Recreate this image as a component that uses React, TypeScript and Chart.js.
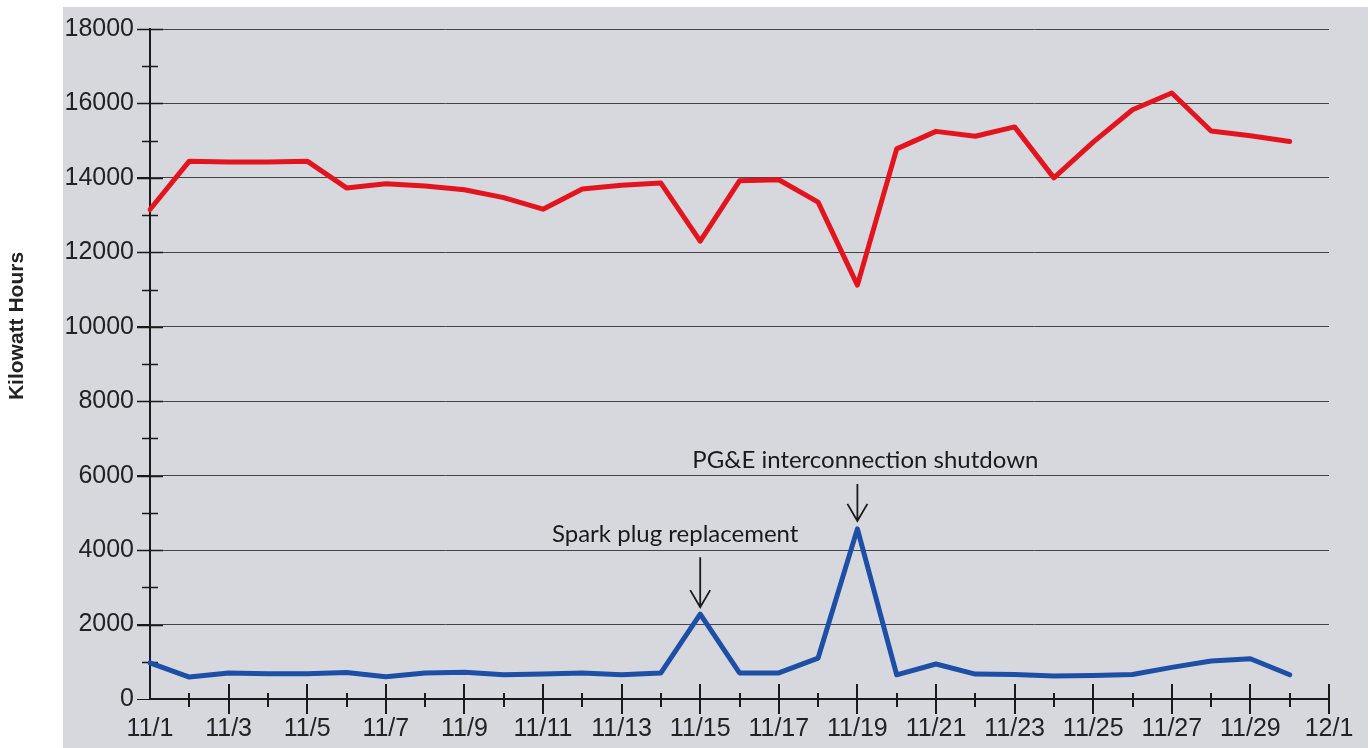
import React, { useEffect, useRef } from "react";
import { Chart, registerables } from "chart.js";

Chart.register(...registerables);

// Day labels along the x axis (one per day, 12/1 closes the month)
const dayLabels = [
  "11/1", "11/2", "11/3", "11/4", "11/5", "11/6", "11/7", "11/8", "11/9", "11/10",
  "11/11", "11/12", "11/13", "11/14", "11/15", "11/16", "11/17", "11/18", "11/19", "11/20",
  "11/21", "11/22", "11/23", "11/24", "11/25", "11/26", "11/27", "11/28", "11/29", "11/30",
  "12/1",
];

// Daily generation (kWh)
const dailyOutput = [
  13150, 14450, 14430, 14430, 14450, 13730, 13840, 13780, 13680, 13470,
  13160, 13700, 13800, 13860, 12300, 13920, 13950, 13350, 11120, 14780,
  15250, 15120, 15370, 14000, 14960, 15830, 16280, 15260, 15130, 14980,
];

// Daily shortfall (kWh)
const dailyShortfall = [
  970, 590, 700, 680, 680, 710, 600, 700, 720, 650,
  670, 700, 650, 700, 2280, 700, 700, 1100, 4570, 650,
  940, 670, 660, 620, 630, 660, 850, 1020, 1080, 650,
];

// y axis tick values
const yMin = 0;
const yMax = 18000;
const yStep = 2000;

// Event notes: label text and the day they point at
const eventNotes = [
  { day: "11/15", text: "Spark plug replacement" },
  { day: "11/19", text: "PG&E interconnection shutdown" },
];

const axisTitle = "Kilowatt Hours";

const TICK_FONT = "Liberation Sans, Arial, sans-serif";

const decorPlugin = {
  id: "decor",
  beforeDraw(chart: any) {
    const { ctx, width, height } = chart;
    ctx.save();
    ctx.fillStyle = "#ffffff";
    ctx.fillRect(0, 0, width, height);
    ctx.fillStyle = "#d7d8dd";
    ctx.fillRect(63, 7, 1305, height - 7);
    ctx.restore();
  },
  beforeDatasetsDraw(chart: any) {
    const { ctx, chartArea, scales } = chart;
    const x = scales.x;
    const y = scales.y;
    ctx.save();
    ctx.strokeStyle = "#1a1a1a";
    ctx.lineWidth = 2;
    // x-axis day ticks: long at labelled days, short between
    const base = chartArea.bottom;
    dayLabels.forEach((_, i) => {
      const px = Math.round(x.getPixelForValue(i));
      if (i === 0) return;
      const major = i % 2 === 0;
      ctx.beginPath();
      ctx.moveTo(px, major ? base - 15 : base - 6);
      ctx.lineTo(px, major ? base + 15 : base + 8);
      ctx.stroke();
    });
    // y-axis ticks: major cross the axis, minor at the odd thousands
    const ax = chartArea.left;
    for (let v = yMin + 1000; v <= yMax; v += 1000) {
      const py = Math.round(y.getPixelForValue(v)) + 0.5;
      const major = v % yStep === 0;
      ctx.beginPath();
      ctx.lineWidth = 1.5;
      ctx.moveTo(major ? ax - 13 : ax - 8, py);
      ctx.lineTo(major ? ax + 13 : ax + 8, py);
      ctx.stroke();
    }
    ctx.restore();
  },
  afterDatasetsDraw(chart: any) {
    const { ctx, scales } = chart;
    const x = scales.x;
    const y = scales.y;
    ctx.save();
    // rotated axis title
    ctx.fillStyle = "#222";
    ctx.font = "bold 21px " + TICK_FONT;
    ctx.textAlign = "center";
    ctx.textBaseline = "middle";
    ctx.translate(17, 326);
    ctx.rotate(-Math.PI / 2);
    ctx.fillText(axisTitle, 0, 0);
    ctx.restore();

    const geometry = [
      { len: 50, gap: 7, textGap: 15, textShift: -25 },
      { len: 37, gap: 8, textGap: 16, textShift: 8 },
    ];
    eventNotes.forEach((note, k) => {
      const i = dayLabels.indexOf(note.day);
      const px = x.getPixelForValue(i);
      const py = y.getPixelForValue(dailyShortfall[i]);
      const g = geometry[k];
      const tip = py - g.gap;
      const top = tip - g.len;
      ctx.save();
      ctx.strokeStyle = "#1a1a1a";
      ctx.lineWidth = 1.8;
      ctx.beginPath();
      ctx.moveTo(px, top);
      ctx.lineTo(px, tip);
      ctx.moveTo(px - 10, tip - 17);
      ctx.lineTo(px, tip);
      ctx.lineTo(px + 10, tip - 17);
      ctx.stroke();
      ctx.fillStyle = "#1a1a1a";
      ctx.font = "24px Lato, 'Open Sans', sans-serif";
      ctx.textAlign = "center";
      ctx.textBaseline = "alphabetic";
      ctx.fillText(note.text, px + g.textShift, top - g.textGap);
      ctx.restore();
    });
  },
};

export default function App() {
  const canvasRef = useRef<HTMLCanvasElement | null>(null);

  useEffect(() => {
    const canvas = canvasRef.current;
    if (!canvas) return;
    const chart = new Chart(canvas, {
      type: "line",
      data: {
        labels: dayLabels,
        datasets: [
          {
            label: "Generation",
            data: dailyOutput,
            borderColor: "#e3141e",
            borderWidth: 5,
            pointRadius: 0,
            tension: 0,
            borderJoinStyle: "round",
            borderCapStyle: "round",
          },
          {
            label: "Shortfall",
            data: dailyShortfall,
            borderColor: "#1d4fa6",
            borderWidth: 5,
            pointRadius: 0,
            tension: 0,
            borderJoinStyle: "round",
            borderCapStyle: "round",
          },
        ],
      },
      options: {
        responsive: false,
        animation: false,
        devicePixelRatio: 1,
        layout: { padding: { left: 0, right: 43, top: 29, bottom: 0 } },
        plugins: {
          legend: { display: false },
          tooltip: { enabled: false },
        },
        scales: {
          x: {
            type: "category",
            offset: false,
            grid: { display: false, drawTicks: false },
            border: { display: true, color: "#1a1a1a", width: 2 },
            ticks: {
              autoSkip: false,
              maxRotation: 0,
              minRotation: 0,
              padding: 15,
              color: "#222",
              font: { family: TICK_FONT, size: 25 },
              callback: (_v: any, i: number) => (i % 2 === 0 ? dayLabels[i] : ""),
            },
            afterFit: (s: any) => {
              s.height = 49;
            },
          },
          y: {
            min: yMin,
            max: yMax,
            grid: {
              color: "#444",
              lineWidth: 1,
              tickLength: 13,
              drawTicks: true,
              tickColor: "#1a1a1a",
            },
            border: { display: true, color: "#1a1a1a", width: 2 },
            ticks: {
              stepSize: yStep,
              padding: 3,
              color: "#222",
              font: { family: TICK_FONT, size: 25 },
              callback: (v: any) => String(v),
            },
            afterFit: (s: any) => {
              s.width = 150;
            },
          },
        },
      },
      plugins: [decorPlugin],
    });
    return () => chart.destroy();
  }, []);

  return (
    <div style={{ position: "fixed", left: 0, top: 0, width: 1372, height: 748, background: "#fff" }}>
      <canvas ref={canvasRef} width={1372} height={748} style={{ display: "block" }} />
    </div>
  );
}
